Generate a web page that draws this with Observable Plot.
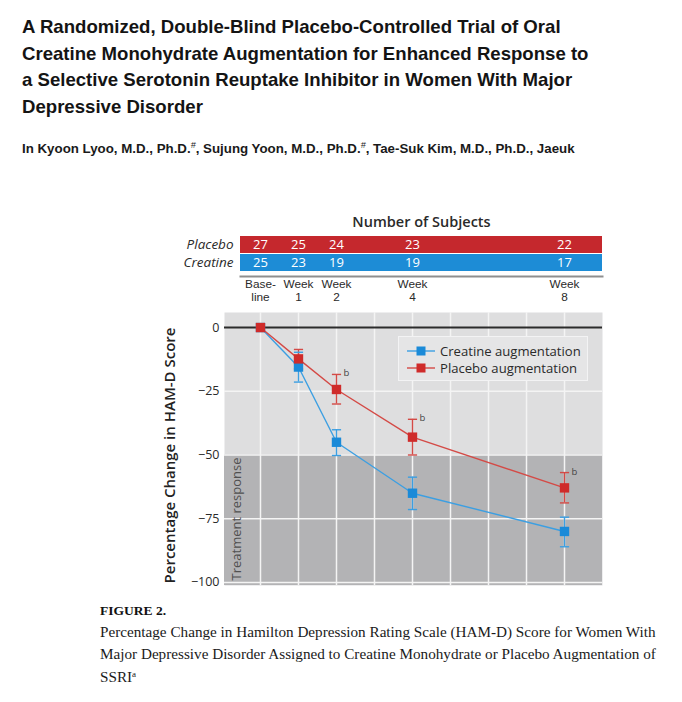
<!DOCTYPE html>
<html>
<head>
<meta charset="utf-8">
<script src="https://cdn.jsdelivr.net/npm/d3@7"></script>
<script src="https://cdn.jsdelivr.net/npm/@observablehq/plot@0.6"></script>
<style>
  html, body { margin: 0; padding: 0; background: #fff; }
  body { width: 682px; height: 702px; position: relative; overflow: hidden; }
  .abs { position: absolute; }
  #title { left: 22px; top: 14px; font: bold 18.6px/26.5px "Liberation Sans", Arial, sans-serif; color: #141414; white-space: nowrap; }
  #authors { left: 22px; top: 137px; font: bold 13.3px/17px "Liberation Sans", Arial, sans-serif; color: #1a1a1a; white-space: nowrap; }
  #authors sup { font-style: italic; font-weight: normal; font-size: 9px; }
  #topchart { left: 0; top: 205px; }
  #mainchart { left: 0; top: 305px; }
  #legend { left: 398px; top: 336px; width: 188px; height: 43px; background: #e5e5e6; border: 1.5px solid #f3f3f4; font: 13.1px "Open Sans", sans-serif; color: #2a2a2a; }
  #legend .row { position: absolute; left: 7px; height: 17px; display: flex; align-items: center; white-space: nowrap; }
  #legend svg { margin-right: 4px; }
  #figlabel { left: 100px; top: 603px; font: bold 13.5px "Liberation Serif", "Times New Roman", serif; color: #111; }
  #caption { left: 100px; top: 621px; font: 15.2px/21.5px "Liberation Serif", "Times New Roman", serif; color: #1a1a1a; white-space: nowrap; }
  #caption sup { font-size: 9px; vertical-align: 5px; }
</style>
</head>
<body>
<div id="title" class="abs">A Randomized, Double-Blind Placebo-Controlled Trial of Oral<br>Creatine Monohydrate Augmentation for Enhanced Response to<br>a Selective Serotonin Reuptake Inhibitor in Women With Major<br>Depressive Disorder</div>
<div id="authors" class="abs">In Kyoon Lyoo, M.D., Ph.D.<sup>#</sup>, Sujung Yoon, M.D., Ph.D.<sup>#</sup>, Tae-Suk Kim, M.D., Ph.D., Jaeuk</div>
<div id="topchart" class="abs"></div>
<div id="mainchart" class="abs"></div>
<div id="legend" class="abs"></div>
<div id="figlabel" class="abs">FIGURE 2.</div>
<div id="caption" class="abs">Percentage Change in Hamilton Depression Rating Scale (HAM-D) Score for Women With<br>Major Depressive Disorder Assigned to Creatine Monohydrate or Placebo Augmentation of<br>SSRI<sup>a</sup></div>

<script>
// ---------------- data ----------------
const weeks = [0, 1, 2, 4, 8];
const weekLabelTop = ["Base-", "Week", "Week", "Week", "Week"];
const weekLabelBottom = ["line", "1", "2", "4", "8"];
const gridWeeks = [0, 1, 2, 3, 4, 5, 6, 7, 8];
const groups = ["Placebo", "Creatine"];
const placeboN = [27, 25, 24, 23, 22];
const creatineN = [25, 23, 19, 19, 17];

const seriesNames = ["Creatine augmentation", "Placebo augmentation"];
const creatineMean = [0, -15.5, -45, -65, -80];
const creatineLow  = [0, -21.4, -50.2, -71.4, -86];
const creatineHigh = [0, -9.7, -40.1, -58.7, -74.4];
const placeboMean  = [0, -12.3, -24.3, -43, -62.9];
const placeboLow   = [0, -16.2, -30, -50, -68.8];
const placeboHigh  = [0, -8.6, -18.4, -36, -56.9];
const significantWeeks = [2, 4, 8]; // marked "b"

const yTicks = [0, -25, -50, -75, -100];
const responseThreshold = -50;

// ---------------- styles ----------------
const red = "#c5282d", blue = "#1d8cd6";
const redLine = "#d44a46", blueLine = "#3c9fe2";
const redMark = "#cf2b2a", blueMark = "#1a8ad8";
const lightBg = "#dededf", darkBg = "#b3b3b5";
const chartFont = "'Open Sans', sans-serif";

// ---------------- top: number of subjects ----------------
const topDomain = [-0.526, 9];
const subjectRows = [];
weeks.forEach((w, i) => {
  subjectRows.push({group: "Placebo", week: w, n: placeboN[i]});
  subjectRows.push({group: "Creatine", week: w, n: creatineN[i]});
});
const weekRows = weeks.map((w, i) => ({week: w, top: weekLabelTop[i], bottom: weekLabelBottom[i]}));
const groupColor = {Placebo: red, Creatine: blue};

const topPlot = Plot.plot({
  width: 682, height: 100,
  marginLeft: 240, marginRight: 80, marginTop: 30, marginBottom: 33,
  style: {fontFamily: chartFont, fontSize: "12px", color: "#2a2a2a", background: "transparent"},
  x: {domain: topDomain, axis: null},
  y: {domain: groups, padding: 0.05, axis: null},
  marks: [
    Plot.barX(groups, {x1: () => topDomain[0], x2: () => topDomain[1], y: d => d, fill: d => groupColor[d]}),
    Plot.text(subjectRows, {x: "week", y: "group", text: "n", fill: "white", fontSize: 13}),
    Plot.axisY({tickSize: 0, tickPadding: 7, fontStyle: "italic", fontSize: 13.5, label: null}),
    Plot.frame({anchor: "bottom", stroke: "#8f8f8f", strokeWidth: 2, dy: 4}),
    Plot.text(weekRows, {x: "week", text: "top", frameAnchor: "bottom", lineAnchor: "middle", dy: 11.5, fontSize: 11.8, fontFamily: "'Liberation Sans', sans-serif", fill: "#2a2a2a"}),
    Plot.text(weekRows, {x: "week", text: "bottom", frameAnchor: "bottom", lineAnchor: "middle", dy: 25, fontSize: 11.8, fontFamily: "'Liberation Sans', sans-serif", fill: "#2a2a2a"}),
    Plot.text(["Number of Subjects"], {frameAnchor: "top", lineAnchor: "middle", dy: -13, fontSize: 14.5, fontWeight: 600, fill: "#2a2a2a"})
  ]
});
document.getElementById("topchart").appendChild(topPlot);

// ---------------- main chart ----------------
const xDomain = [-0.947, 9];
const yDomain = [-101.2, 5.9];
const points = [];
weeks.forEach((w, i) => {
  points.push({series: seriesNames[0], week: w, mean: creatineMean[i], low: creatineLow[i], high: creatineHigh[i]});
});
weeks.forEach((w, i) => {
  points.push({series: seriesNames[1], week: w, mean: placeboMean[i], low: placeboLow[i], high: placeboHigh[i]});
});
const errPoints = points.filter(d => d.week !== 0);
const lineColor = {[seriesNames[0]]: blueLine, [seriesNames[1]]: redLine};
const markColor = {[seriesNames[0]]: blueMark, [seriesNames[1]]: redMark};
const sigPoints = points.filter(d => d.series === seriesNames[1] && significantWeeks.includes(d.week));

const capSymbol = {
  draw(ctx, size) {
    const w = Math.sqrt(size / Math.PI);
    ctx.moveTo(-w, 0); ctx.lineTo(w, 0);
  }
};

const mainPlot = Plot.plot({
  width: 682, height: 295,
  marginLeft: 224, marginRight: 80, marginTop: 7, marginBottom: 15,
  style: {fontFamily: chartFont, fontSize: "12.5px", color: "#2a2a2a", background: "transparent"},
  x: {domain: xDomain, axis: null},
  y: {domain: yDomain, axis: null},
  marks: [
    Plot.frame({fill: lightBg, stroke: null}),
    Plot.rect([responseThreshold], {x1: () => xDomain[0], x2: () => xDomain[1], y1: d => d, y2: () => yDomain[0], fill: darkBg}),
    Plot.ruleX(gridWeeks, {stroke: "#f4f4f4", strokeWidth: 1.5}),
    Plot.ruleY(yTicks.filter(d => d !== 0), {stroke: "#f4f4f4", strokeWidth: 1.5}),
    Plot.ruleY([0], {stroke: "#2b2b2b", strokeWidth: 2}),
    Plot.axisY({ticks: yTicks, tickSize: 0, tickPadding: 5, fontSize: 12.5, label: null,
      tickFormat: d => d === 0 ? "0" : "\u2212" + Math.abs(d)}),
    Plot.text(["Treatment response"], {frameAnchor: "bottom-left", rotate: -90, textAnchor: "start", lineAnchor: "middle", dx: 12, dy: -5, fill: "#505050", fontSize: 13}),
    Plot.text(["Percentage Change in HAM-D Score"], {frameAnchor: "left", rotate: -90, lineAnchor: "middle", textAnchor: "middle", dx: -54, dy: 6.5, fontSize: 15, fontWeight: 600, fill: "#222"}),
    // series
    Plot.line(points, {x: "week", y: "mean", z: "series", stroke: d => lineColor[d.series], strokeWidth: 1.4}),
    Plot.ruleX(errPoints, {x: "week", y1: "low", y2: "high", stroke: d => lineColor[d.series], strokeWidth: 1.4}),
    Plot.dot(errPoints, {x: "week", y: "low", symbol: capSymbol, r: 4.6, stroke: d => lineColor[d.series], strokeWidth: 1.4, fill: "none"}),
    Plot.dot(errPoints, {x: "week", y: "high", symbol: capSymbol, r: 4.6, stroke: d => lineColor[d.series], strokeWidth: 1.4, fill: "none"}),
    Plot.dot(points, {x: "week", y: "mean", symbol: "square", r: 5.3, fill: d => markColor[d.series], stroke: null}),
    Plot.text(sigPoints, {x: "week", y: "high", text: () => "b", dx: 10, dy: -1, fontSize: 9.5, fill: "#444"})
  ]
});
document.getElementById("mainchart").appendChild(mainPlot);

// ---------------- legend ----------------
const legend = document.getElementById("legend");
seriesNames.forEach((name, i) => {
  const row = document.createElement("div");
  row.className = "row";
  row.style.top = (5 + i * 17.5) + "px";
  row.innerHTML = `<svg width="30" height="12"><line x1="1" x2="29" y1="6" y2="6" stroke="${lineColor[name]}" stroke-width="1.4"/><rect x="10.5" y="1.5" width="9" height="9" fill="${markColor[name]}"/></svg><span>${name}</span>`;
  legend.appendChild(row);
});
</script>
</body>
</html>
